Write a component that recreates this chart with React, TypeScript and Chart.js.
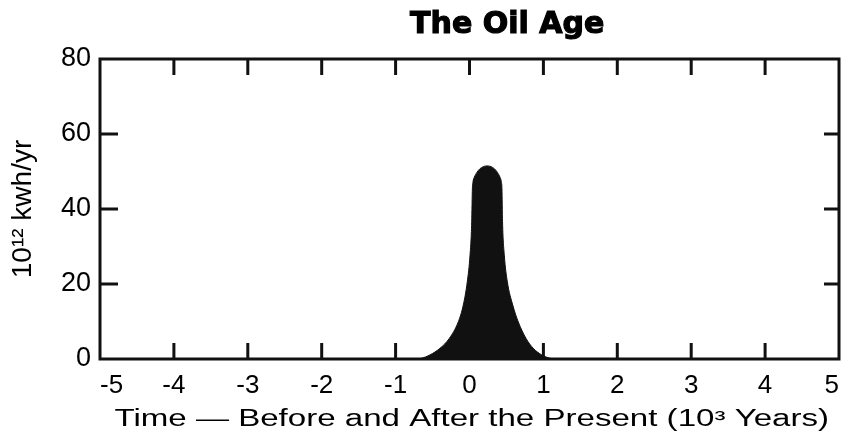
import { useEffect, useRef } from "react";
import { Chart, registerables } from "chart.js";

Chart.register(...registerables);

const TITLE = "The Oil Age";
const X_LABEL = "Time — Before and After the Present (10³ Years)";
const Y_LABEL = "10¹² kwh/yr";

// time in thousands of years relative to the present
const years = [
  -5, -0.75, -0.647, -0.535, -0.4, -0.273, -0.152, -0.084, -0.03, 0.007, 0.03, 0.039,
  0.046, 0.066, 0.098, 0.139, 0.187, 0.239, 0.291, 0.339, 0.38, 0.412, 0.432, 0.439,
  0.447, 0.471, 0.512, 0.585, 0.66, 0.765, 0.863, 0.977, 1.09, 1.2, 5,
];
// energy, 10^12 kwh/yr
const energy = [
  0, 0, 0.2, 1.1, 2.85, 5.5, 9.9, 14.4, 20.6, 27.7, 36.6, 45.5,
  47.1, 48.5, 49.7, 50.7, 51.3, 51.5, 51.3, 50.7, 49.7, 48.5, 47.1, 45.5,
  36.6, 27.7, 20.6, 14.4, 9.9, 5.5, 2.85, 1.1, 0.2, 0, 0,
];
const xTicks = [-5, -4, -3, -2, -1, 0, 1, 2, 3, 4, 5];
const yTicks = [0, 20, 40, 60, 80];

const FONT = "'Liberation Sans', Arial, sans-serif";

const framePlugin = {
  id: "frame",
  afterDatasetsDraw(chart: any) {
    const { ctx, chartArea: a, scales } = chart;
    ctx.save();
    ctx.strokeStyle = "#111";
    ctx.lineWidth = 3;
    ctx.strokeRect(a.left, a.top, a.right - a.left, a.bottom - a.top);
    ctx.beginPath();
    for (const v of xTicks.slice(1, -1)) {
      const px = scales.x.getPixelForValue(v);
      ctx.moveTo(px, a.bottom);
      ctx.lineTo(px, a.bottom - 16);
      ctx.moveTo(px, a.top);
      ctx.lineTo(px, a.top + 16);
    }
    for (const v of yTicks.slice(1, -1)) {
      const py = scales.y.getPixelForValue(v);
      ctx.moveTo(a.left, py);
      ctx.lineTo(a.left + 18, py);
      ctx.moveTo(a.right, py);
      ctx.lineTo(a.right - 15, py);
    }
    ctx.stroke();

    // chart title
    ctx.fillStyle = "#000";
    ctx.strokeStyle = "#000";
    ctx.lineWidth = 1.2;
    ctx.font = "bold 30px 'DejaVu Sans', sans-serif";
    ctx.textAlign = "center";
    ctx.textBaseline = "middle";
    const tx = a.left + (a.right - a.left) * 0.551;
    ctx.fillText(TITLE, tx, 25);
    ctx.strokeText(TITLE, tx, 25);

    // x-axis title (the original lettering is wide, so stretch it horizontally)
    ctx.font = "23px " + FONT;
    ctx.textBaseline = "alphabetic";
    const w = ctx.measureText(X_LABEL).width;
    const target = (a.right - a.left) * 0.967;
    ctx.translate(a.left + (a.right - a.left) * 0.503, 426);
    ctx.scale(target / w, 1);
    ctx.fillText(X_LABEL, 0, 0);
    ctx.restore();
  },
};

export default function App() {
  const ref = useRef<HTMLCanvasElement | null>(null);
  useEffect(() => {
    if (!ref.current) return;
    const chart = new Chart(ref.current, {
      type: "line",
      data: {
        datasets: [
          {
            data: years.map((x, i) => ({ x, y: energy[i] })),
            borderColor: "#111",
            borderWidth: 1,
            backgroundColor: "#111",
            fill: "origin",
            pointRadius: 0,
            cubicInterpolationMode: "monotone",
          },
        ],
      },
      options: {
        animation: false,
        responsive: false,
        maintainAspectRatio: false,
        layout: { padding: { top: 59, right: 4, bottom: 0, left: 0 } },
        plugins: {
          legend: { display: false },
          tooltip: { enabled: false },
          title: { display: false },
        },
        scales: {
          x: {
            type: "linear",
            min: -5,
            max: 5,
            afterFit: (s: any) => {
              s.height = 78;
              s.paddingLeft = 0;
              s.paddingRight = 0;
            },
            afterBuildTicks: (s: any) => {
              s.ticks = xTicks.map((v) => ({ value: v }));
            },
            grid: { display: false, drawTicks: false },
            border: { display: false },
            ticks: {
              color: "#000",
              padding: 11,
              maxRotation: 0,
              align: "inner",
              font: { family: FONT, size: 26 },
            },
            title: { display: false },
          },
          y: {
            min: 0,
            max: 80,
            afterFit: (s: any) => {
              s.width = 100;
              s.paddingTop = 0;
              s.paddingBottom = 0;
            },
            afterBuildTicks: (s: any) => {
              s.ticks = yTicks.map((v) => ({ value: v }));
            },
            grid: { display: false, drawTicks: false },
            border: { display: false },
            ticks: {
              color: "#000",
              padding: 9,
              font: { family: FONT, size: 27 },
            },
            title: {
              display: true,
              text: Y_LABEL,
              color: "#000",
              font: { family: FONT, size: 28 },
              padding: { top: 6, bottom: 0 },
            },
          },
        },
      },
      plugins: [framePlugin],
    });
    return () => chart.destroy();
  }, []);
  return (
    <div style={{ position: "fixed", left: 0, top: 0, width: 843, height: 437, background: "#fff" }}>
      <canvas ref={ref} width={843} height={437} style={{ display: "block" }} />
    </div>
  );
}
